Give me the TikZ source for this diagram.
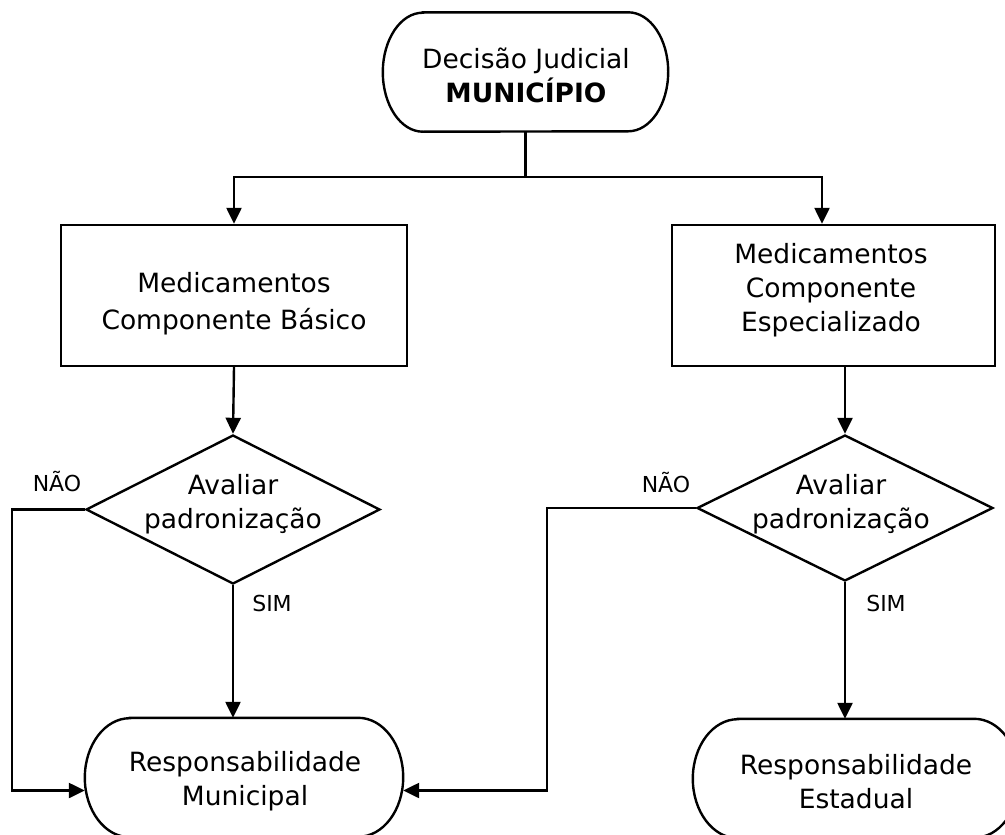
\documentclass[tikz,border=0pt]{standalone}
\usepackage{fontspec}
\setmainfont{DejaVu Sans}
\usetikzlibrary{shapes.geometric,arrows.meta}
\newcommand{\stadiumoutline}[3]{%
  \draw[outline] ([xshift=#2]#1.north west) -- ([xshift=-#2]#1.north east)
    arc[start angle=90,end angle=-90,x radius=#2,y radius=#3]
    -- ([xshift=#2]#1.south west)
    arc[start angle=270,end angle=90,x radius=#2,y radius=#3] -- cycle;}
\begin{document}
\begin{tikzpicture}[x=1pt,y=-1pt,
  txt/.style={font=\fontsize{26.5}{34}\selectfont, align=center, inner sep=0pt},
  lbl/.style={font=\fontsize{22}{26}\selectfont, inner sep=0pt},
  outline/.style={draw, line width=2.4pt},
  conn/.style={line width=2.4pt},
  arr/.style={line width=2.4pt, -{Triangle[length=16pt,width=15pt]}},
  term/.style={rectangle, inner sep=0pt},
  procbox/.style={draw, line width=2.4pt, rectangle, inner sep=0pt},
  decision/.style={draw, line width=2.4pt, diamond, aspect=2, inner sep=0pt}
]
\useasboundingbox (0,0) rectangle (1005,835);
\clip (0,0) rectangle (1005,835);
\fill[white] (0,0) rectangle (1005,835);

% shapes
\node[term, minimum width=285pt, minimum height=119pt] (top) at (525.5,72) {};
\stadiumoutline{top}{40pt}{59.5pt}
\node[procbox, minimum width=346pt, minimum height=141pt] (b1) at (234,295.5) {};
\node[procbox, minimum width=323pt, minimum height=141pt] (b2) at (833.5,295.5) {};
\node[decision, minimum width=294pt, minimum height=149pt] (d1) at (233,509.5) {};
\node[decision, minimum width=296pt, minimum height=146pt] (d2) at (845,508) {};
\node[term, minimum width=318pt, minimum height=119pt] (r1) at (244,777.5) {};
\stadiumoutline{r1}{45pt}{59.5pt}
\node[term, minimum width=326pt, minimum height=119pt] (r2) at (856,778.5) {};
\stadiumoutline{r2}{45pt}{59.5pt}

% texts
\node[txt] (ttop) at (526,75) {Decisão Judicial\\\textbf{MUNICÍPIO}};
\node[txt, font=\fontsize{26.5}{37}\selectfont] (tb1) at (234,304) {Medicamentos\\Componente Básico};
\node[txt] (tb2) at (831,290) {Medicamentos\\Componente\\Especializado};
\node[txt] (td1) at (233,504) {Avaliar\\padronização};
\node[txt] (td2) at (841,504) {Avaliar\\padronização};
\node[txt] (tr1) at (245,781) {Responsabilidade\\Municipal};
\node[txt] (tr2) at (856,782) {Responsabilidade\\Estadual};

% labels
\node[lbl] (nao1) at (57,482) {NÃO};
\node[lbl] (sim1) at (272,603) {SIM};
\node[lbl] (nao2) at (666,483) {NÃO};
\node[lbl] (sim2) at (886,603) {SIM};

% connectors
\coordinate (j) at (top.south |- 0,177);
\draw[conn] (top.south) -- (j);
\draw[arr] (j) -| (b1.north);
\draw[arr] (j) -| ([xshift=-11.5pt]b2.north);
\draw[arr] (b1.south) -- (d1.north);
\draw[arr] (d2.north |- b2.south) -- (d2.north);
\draw[arr] (d1.west) -- ++(-73,0) |- ([yshift=-13pt]r1.west);
\draw[arr] (d1.south) -- (d1.south |- r1.north);
\draw[arr] (d2.west) -- ++(-149,0) |- ([yshift=-13pt]r1.east);
\draw[arr] (d2.south) -- (d2.south |- r2.north);
\end{tikzpicture}
\end{document}
